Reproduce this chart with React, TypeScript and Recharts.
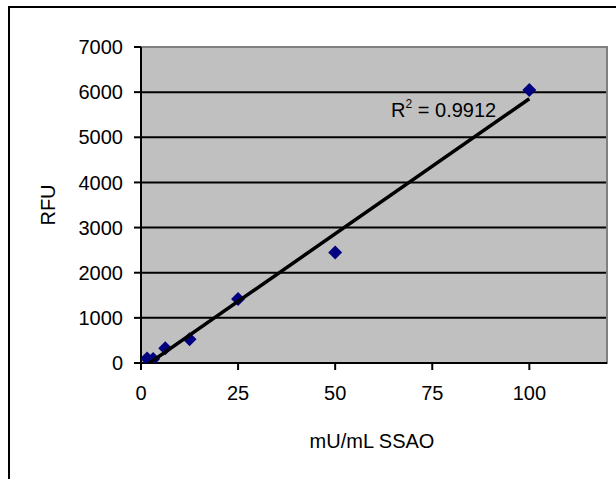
import {
  ScatterChart, Scatter, XAxis, YAxis, ZAxis, CartesianGrid, ReferenceArea, ReferenceDot,
} from "recharts";

// SSAO activity (mU/mL) vs fluorescence
const ssaoUnits = [1.5625, 3.125, 6.25, 12.5, 25, 50, 100];
const rfuValues = [100, 90, 325, 525, 1420, 2450, 6050];
const xTicks = [0, 25, 50, 75, 100];
const yTicks = [0, 1000, 2000, 3000, 4000, 5000, 6000, 7000];
const rSquared = "0.9912";

const FONT = "'Liberation Sans', Arial, sans-serif";

const points = ssaoUnits.map((x, i) => ({ x, y: rfuValues[i] }));

// linear least-squares trendline, as Excel draws it
function fitLine(xs: number[], ys: number[]) {
  const n = xs.length;
  const mx = xs.reduce((a, b) => a + b, 0) / n;
  const my = ys.reduce((a, b) => a + b, 0) / n;
  let sxy = 0;
  let sxx = 0;
  xs.forEach((x, i) => {
    sxy += (x - mx) * (ys[i] - my);
    sxx += (x - mx) * (x - mx);
  });
  const slope = sxy / sxx;
  return { slope, intercept: my - slope * mx };
}

const fit = fitLine(ssaoUnits, rfuValues);
const xMin = Math.min(...ssaoUnits);
const xMax = Math.max(...ssaoUnits);
const trend = [
  { x: xMin, y: fit.intercept + fit.slope * xMin },
  { x: xMax, y: fit.intercept + fit.slope * xMax },
];

const Diamond = (props: any) => {
  const { cx, cy } = props;
  const r = 7;
  return (
    <polygon
      points={`${cx},${cy - r} ${cx + r},${cy} ${cx},${cy + r} ${cx - r},${cy}`}
      fill="#000080"
    />
  );
};

const tickStyle = { fill: "#000", fontSize: 20, fontFamily: FONT };

export default function App() {
  return (
    <div style={{ position: "fixed", left: 0, top: 0, width: 616, height: 479, overflow: "hidden", background: "#fff" }}>
      <div
        style={{
          position: "absolute", left: 8, top: 6, width: 700, height: 600,
          border: "2px solid #000", boxSizing: "border-box",
        }}
      />
      <div style={{ position: "absolute", left: 0, top: 0 }}>
        <ScatterChart width={616} height={479} margin={{ top: 47, right: 9, bottom: 0, left: 0 }}>
          <CartesianGrid
            fill="#C0C0C0"
            vertical={false}
            stroke="#000"
            strokeWidth={2}
            horizontalValues={yTicks.slice(1, -1)}
          />
          <XAxis
            type="number"
            dataKey="x"
            domain={[0, 120]}
            ticks={xTicks}
            height={116}
            allowDataOverflow
            tick={tickStyle}
            tickSize={7}
            tickMargin={16}
            axisLine={{ stroke: "#000", strokeWidth: 2 }}
            tickLine={{ stroke: "#000", strokeWidth: 2 }}
            label={{
              content: ({ viewBox }: any) => (
                <text
                  x={viewBox.x + viewBox.width / 2 - 2}
                  y={viewBox.y + 85}
                  textAnchor="middle"
                  fontSize={20}
                  fontFamily={FONT}
                  fill="#000"
                >
                  mU/mL SSAO
                </text>
              ),
            }}
          />
          <YAxis
            type="number"
            dataKey="y"
            domain={[0, 7000]}
            ticks={yTicks}
            width={141}
            allowDataOverflow
            tick={tickStyle}
            tickSize={7}
            tickMargin={11}
            axisLine={{ stroke: "#000", strokeWidth: 2 }}
            tickLine={{ stroke: "#000", strokeWidth: 2 }}
            label={{
              content: ({ viewBox }: any) => {
                const cx = viewBox.x + 55;
                const cy = viewBox.y + viewBox.height / 2;
                return (
                  <text
                    x={cx}
                    y={cy}
                    transform={`rotate(-90, ${cx}, ${cy})`}
                    textAnchor="middle"
                    fontSize={20}
                    fontFamily={FONT}
                    fill="#000"
                  >
                    RFU
                  </text>
                );
              },
            }}
          />
          <ZAxis range={[100, 100]} />
          <ReferenceArea
            x1={0}
            x2={120}
            y1={0}
            y2={7000}
            fill="none"
            stroke="#808080"
            strokeWidth={2}
            ifOverflow="visible"
          />
          <Scatter data={points} shape={<Diamond />} isAnimationActive={false} />
          <Scatter
            data={trend}
            line={{ stroke: "#000", strokeWidth: 3.5 }}
            shape={() => <g />}
            isAnimationActive={false}
          />
          <ReferenceDot
            x={64.4}
            y={5440}
            r={0}
            fill="none"
            stroke="none"
            label={{
              content: ({ viewBox }: any) => (
                <text x={viewBox.x} y={viewBox.y} fontSize={20} fontFamily={FONT} fill="#000">
                  R<tspan fontSize={12} dy={-9}>2</tspan>
                  <tspan dy={9}> = {rSquared}</tspan>
                </text>
              ),
            }}
          />
        </ScatterChart>
      </div>
    </div>
  );
}
